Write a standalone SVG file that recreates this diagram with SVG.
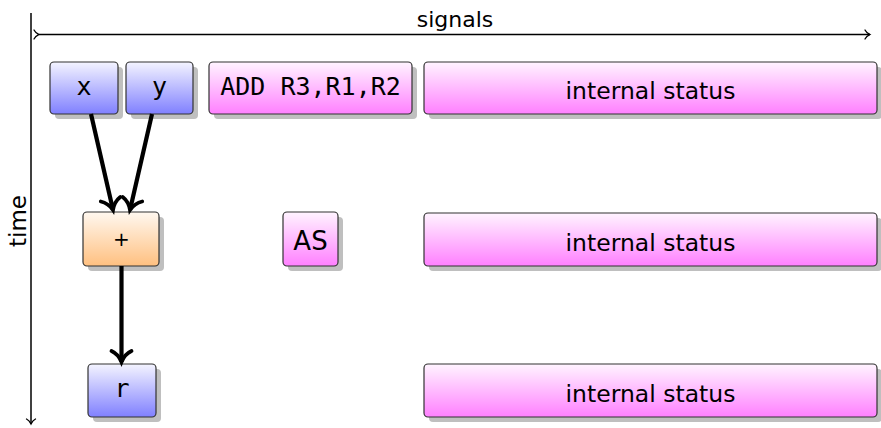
<svg xmlns="http://www.w3.org/2000/svg" width="881" height="428" viewBox="0 0 881 428">
<defs>
<linearGradient id="gBlue" x1="0" y1="0" x2="0" y2="1"><stop offset="0" stop-color="#f4f4ff"/><stop offset="1" stop-color="#8080ff"/></linearGradient>
<linearGradient id="gPink" x1="0" y1="0" x2="0" y2="1"><stop offset="0" stop-color="#fff4ff"/><stop offset="1" stop-color="#ff80ff"/></linearGradient>
<linearGradient id="gOrange" x1="0" y1="0" x2="0" y2="1"><stop offset="0" stop-color="#fff8f0"/><stop offset="1" stop-color="#ffc080"/></linearGradient>
<marker id="big" markerUnits="userSpaceOnUse" markerWidth="26" markerHeight="26" viewBox="-15 -13 19 26" refX="0" refY="0" orient="auto" overflow="visible">
<path d="M-11,-10 C-8,-3.5 -2.5,-1 0,0 C-2.5,1 -8,3.5 -11,10" fill="none" stroke="#000" stroke-width="3.8" stroke-linecap="round"/>
</marker>
<marker id="thin" markerUnits="userSpaceOnUse" markerWidth="12" markerHeight="12" viewBox="-8 -6 10 12" refX="0" refY="0" orient="auto" overflow="visible">
<path d="M-5,-4.5 C-3.5,-1.5 -1,-0.5 0,0 C-1,0.5 -3.5,1.5 -5,4.5" fill="none" stroke="#000" stroke-width="1.3" stroke-linecap="round"/>
</marker>
</defs>
<style>
.sh{fill:#bfbfbf}
.box{stroke:#333;stroke-width:1.2}
.blue{fill:url(#gBlue)}
.pink{fill:url(#gPink)}
.orange{fill:url(#gOrange)}
.mono{font-family:"DejaVu Sans Mono","Liberation Mono",monospace;font-size:25px;fill:#000;text-anchor:middle}
.sans{font-family:"DejaVu Sans","Liberation Sans",sans-serif;font-size:23.5px;fill:#000;text-anchor:middle}
.axis{stroke:#000;stroke-width:1.5;fill:none}
.conn{stroke:#000;stroke-width:4.2;fill:none}
</style>

<g id="axes">
<line class="axis" x1="31" y1="13" x2="31" y2="424" marker-end="url(#thin)"/>
<line class="axis" x1="39" y1="34.5" x2="870" y2="34.5" marker-start="url(#thin)" marker-end="url(#thin)"/>
<text class="sans" x="455" y="27" style="font-size:22px">signals</text>
<text class="sans" transform="translate(26,221) rotate(-90)" style="font-size:23px">time</text>
</g>

<g id="node-x">
<rect class="sh" x="55" y="67" width="68" height="52" rx="4"/>
<rect class="box blue" x="50" y="62" width="68" height="52" rx="4"/>
<text class="mono" x="84" y="95">x</text>
</g>
<g id="node-y">
<rect class="sh" x="131" y="67" width="67" height="52" rx="4"/>
<rect class="box blue" x="126" y="62" width="67" height="52" rx="4"/>
<text class="mono" x="159.5" y="95">y</text>
</g>
<g id="node-add">
<rect class="sh" x="214" y="67" width="203" height="52" rx="4"/>
<rect class="box pink" x="209" y="62" width="203" height="52" rx="4"/>
<text class="mono" x="310.5" y="95">ADD R3,R1,R2</text>
</g>
<g id="node-status1">
<rect class="sh" x="429" y="67" width="453" height="52" rx="4"/>
<rect class="box pink" x="424" y="62" width="453" height="52" rx="4"/>
<text class="sans" x="650.5" y="98.5">internal status</text>
</g>

<g id="node-plus">
<rect class="sh" x="88" y="217" width="76" height="54" rx="4"/>
<rect class="box orange" x="83" y="212" width="76" height="54" rx="4"/>
<text class="sans" x="121.5" y="246" style="font-size:20px">+</text>
</g>
<g id="node-as">
<rect class="sh" x="288" y="217" width="55" height="54" rx="4"/>
<rect class="box pink" x="283" y="212" width="55" height="54" rx="4"/>
<text class="sans" x="310.5" y="250" style="font-size:26px">AS</text>
</g>
<g id="node-status2">
<rect class="sh" x="429" y="218" width="453" height="53" rx="4"/>
<rect class="box pink" x="424" y="213" width="453" height="53" rx="4"/>
<text class="sans" x="650.5" y="250.5">internal status</text>
</g>

<g id="node-r">
<rect class="sh" x="93" y="369" width="68" height="53" rx="4"/>
<rect class="box blue" x="88" y="364" width="68" height="53" rx="4"/>
<text class="mono" x="122" y="397">r</text>
</g>
<g id="node-status3">
<rect class="sh" x="429" y="369" width="453" height="53" rx="4"/>
<rect class="box pink" x="424" y="364" width="453" height="53" rx="4"/>
<text class="sans" x="650.5" y="401.5">internal status</text>
</g>

<g id="connectors">
<line class="conn" x1="91" y1="114" x2="113" y2="210" marker-end="url(#big)"/>
<line class="conn" x1="152" y1="114" x2="130" y2="210" marker-end="url(#big)"/>
<line class="conn" x1="121.5" y1="266" x2="121.5" y2="362" marker-end="url(#big)"/>
</g>
</svg>
